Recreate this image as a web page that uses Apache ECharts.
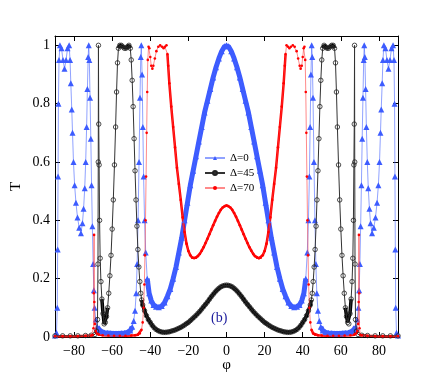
<!DOCTYPE html>
<html>
<head>
<meta charset="utf-8">
<script src="https://cdn.jsdelivr.net/npm/echarts@6.0.0/dist/echarts.min.js"></script>
<style>
html, body { margin: 0; padding: 0; background: #fff; }
#chart { width: 436px; height: 390px; }
</style>
</head>
<body>
<div id="chart"></div>
<script>
// tick labels
var xTicks = [-80, -60, -40, -20, 0, 20, 40, 60, 80];
var yTicks = [0, 0.2, 0.4, 0.6, 0.8, 1];
var names = ['Δ=0', 'Δ=45', 'Δ=70'];

// Δ=0  [phi, T]
var blueData = [
  [-90,0.005],[-89.2,0.015],[-88.8,0.1],[-88.6,0.3],[-88.4,0.55],[-88.2,0.8],[-87.9,0.95],[-87.4,1.0],[-86.6,0.99],[-85.8,0.95],[-85.0,0.92],[-84.2,0.95],[-83.4,0.99],[-82.6,1.0],[-82.1,0.95],[-81.7,0.87],[-81.2,0.78],[-80.8,0.70],[-80.3,0.6],[-79.7,0.52],[-79.0,0.46],[-78.2,0.41],[-77.3,0.375],[-76.4,0.356],[-75.6,0.39],[-75.0,0.44],[-74.4,0.51],[-73.9,0.6],[-73.4,0.72],[-73.0,0.85],[-72.6,0.96],[-72.3,1.0],[-72.0,0.95],[-71.6,0.82],[-71.2,0.68],[-70.8,0.52],[-70.4,0.38],[-70.0,0.25],[-69.6,0.16],[-69.2,0.1],[-68.6,0.06],[-67.8,0.035],[-66.8,0.025],[-65.5,0.018],[-64,0.015],[-62.5,0.014],[-61,0.013],[-59.5,0.012],[-58,0.012],[-56.5,0.012],[-55,0.013],[-53.5,0.014],[-52,0.016],[-50.5,0.022],[-49.5,0.035],[-48.7,0.055],[-48,0.09],[-47.4,0.15],[-46.9,0.25],[-46.4,0.4],[-45.9,0.6],[-45.4,0.82],[-45.0,0.96],[-44.7,1.0],[-44.3,0.9],[-43.9,0.72],[-43.5,0.55],[-43.0,0.4],[-42.4,0.29],[-41.6,0.2],[-40.6,0.15],[-39.5,0.125],[-38.3,0.11],[-37,0.104],[-35.5,0.102],[-34,0.106],[-32.5,0.118],[-31,0.14],[-29.5,0.165],[-28,0.2],[-26.5,0.24],[-25,0.29],[-23.5,0.34],[-22,0.4],[-20.5,0.46],[-19,0.52],[-17.5,0.57],[-16,0.62],[-14.5,0.67],[-13,0.72],[-11.5,0.77],[-10,0.81],[-8.5,0.85],[-7,0.89],[-5.5,0.925],[-4,0.955],[-2.5,0.98],[-1,0.997],[0,1.0],
  [1,0.997],[2.5,0.98],[4,0.955],[5.5,0.925],[7,0.89],[8.5,0.85],[10,0.81],[11.5,0.77],[13,0.72],[14.5,0.67],[16,0.62],[17.5,0.57],[19,0.52],[20.5,0.46],[22,0.4],[23.5,0.34],[25,0.29],[26.5,0.24],[28,0.2],[29.5,0.165],[31,0.14],[32.5,0.118],[34,0.106],[35.5,0.102],[37,0.104],[38.3,0.11],[39.5,0.125],[40.6,0.15],[41.6,0.2],[42.4,0.29],[43.0,0.4],[43.5,0.55],[43.9,0.72],[44.3,0.9],[44.7,1.0],[45.0,0.96],[45.4,0.82],[45.9,0.6],[46.4,0.4],[46.9,0.25],[47.4,0.15],[48,0.09],[48.7,0.055],[49.5,0.035],[50.5,0.022],[52,0.016],[53.5,0.014],[55,0.013],[56.5,0.012],[58,0.012],[59.5,0.012],[61,0.013],[62.5,0.014],[64,0.015],[65.5,0.018],[66.8,0.025],[67.8,0.035],[68.6,0.06],[69.2,0.1],[69.6,0.16],[70.0,0.25],[70.4,0.38],[70.8,0.52],[71.2,0.68],[71.6,0.82],[72.0,0.95],[72.3,1.0],[72.6,0.96],[73.0,0.85],[73.4,0.72],[73.9,0.6],[74.4,0.51],[75.0,0.44],[75.6,0.39],[76.4,0.356],[77.3,0.375],[78.2,0.41],[79.0,0.46],[79.7,0.52],[80.3,0.6],[80.8,0.70],[81.2,0.78],[81.7,0.87],[82.1,0.95],[82.6,1.0],[83.4,0.99],[84.2,0.95],[85.0,0.92],[85.8,0.95],[86.6,0.99],[87.4,1.0],[87.9,0.95],[88.2,0.8],[88.4,0.55],[88.6,0.3],[88.8,0.1],[89.2,0.015],[90,0.005]
];

// Δ=45
var blackData = [
  [-90,0.004],[-86,0.004],[-82,0.004],[-78,0.004],[-74,0.005],[-71,0.006],[-69,0.009],[-68.2,0.02],[-67.7,0.06],[-67.45,0.25],[-67.3,0.6],[-67.2,1.0],[-67.05,0.73],[-66.85,0.59],[-66.6,0.4],[-66.3,0.27],[-65.9,0.19],[-65.4,0.13],[-64.8,0.08],[-64.2,0.045],[-63.6,0.05],[-63.0,0.07],[-62.4,0.1],[-61.8,0.15],[-61.2,0.21],[-60.6,0.28],[-60.0,0.37],[-59.4,0.47],[-58.8,0.59],[-58.2,0.72],[-57.7,0.84],[-57.2,0.94],[-56.7,0.99],[-56,1.0],[-55.2,1.0],[-54.4,0.995],[-53.6,0.99],[-52.8,0.99],[-52,0.995],[-51.2,1.0],[-50.5,0.99],[-50,0.95],[-49.5,0.88],[-49,0.79],[-48.5,0.68],[-48,0.57],[-47.5,0.47],[-47,0.38],[-46.5,0.3],[-46,0.24],[-45.5,0.19],[-45,0.15],[-44.5,0.127],[-44,0.11],[-43,0.09],[-42,0.073],[-41,0.06],[-40,0.05],[-39,0.04],[-38,0.032],[-37,0.026],[-36,0.022],[-35,0.019],[-34,0.017],[-33,0.016],[-32,0.016],[-31,0.017],[-30,0.018],[-29,0.02],[-28,0.022],[-27,0.024],[-26,0.027],[-25,0.03],[-24,0.033],[-23,0.037],[-22,0.041],[-21,0.046],[-20,0.05],[-19,0.056],[-18,0.062],[-17,0.068],[-16,0.074],[-15,0.081],[-14,0.088],[-13,0.096],[-12,0.104],[-11,0.112],[-10,0.12],[-9,0.129],[-8,0.138],[-7,0.146],[-6,0.154],[-5,0.161],[-4,0.167],[-3,0.172],[-2,0.175],[-1,0.177],[0,0.178],
  [1,0.177],[2,0.175],[3,0.172],[4,0.167],[5,0.161],[6,0.154],[7,0.146],[8,0.138],[9,0.129],[10,0.12],[11,0.112],[12,0.104],[13,0.096],[14,0.088],[15,0.081],[16,0.074],[17,0.068],[18,0.062],[19,0.056],[20,0.05],[21,0.046],[22,0.041],[23,0.037],[24,0.033],[25,0.03],[26,0.027],[27,0.024],[28,0.022],[29,0.02],[30,0.018],[31,0.017],[32,0.016],[33,0.016],[34,0.017],[35,0.019],[36,0.022],[37,0.026],[38,0.032],[39,0.04],[40,0.05],[41,0.06],[42,0.073],[43,0.09],[44,0.11],[44.5,0.127],[45,0.15],[45.5,0.19],[46,0.24],[46.5,0.3],[47,0.38],[47.5,0.47],[48,0.57],[48.5,0.68],[49,0.79],[49.5,0.88],[50,0.95],[50.5,0.99],[51.2,1.0],[52,0.995],[52.8,0.99],[53.6,0.99],[54.4,0.995],[55.2,1.0],[56,1.0],[56.7,0.99],[57.2,0.94],[57.7,0.84],[58.2,0.72],[58.8,0.59],[59.4,0.47],[60.0,0.37],[60.6,0.28],[61.2,0.21],[61.8,0.15],[62.4,0.1],[63.0,0.07],[63.6,0.05],[64.2,0.045],[64.8,0.08],[65.4,0.13],[65.9,0.19],[66.3,0.27],[66.6,0.4],[66.85,0.59],[67.05,0.73],[67.2,1.0],[67.3,0.6],[67.45,0.25],[67.7,0.06],[68.2,0.02],[69,0.009],[71,0.006],[74,0.005],[78,0.004],[82,0.004],[86,0.004],[90,0.004]
];

// Δ=70
var redData = [
  [-90,0.003],[-86,0.003],[-82,0.003],[-78,0.003],[-74,0.004],[-71,0.005],[-70.2,0.007],[-69.8,0.03],[-69.65,0.15],[-69.5,0.35],[-69.35,0.12],[-69.1,0.045],[-68.6,0.02],[-68,0.012],[-67,0.008],[-65,0.006],[-62,0.005],[-59,0.004],[-56,0.004],[-53,0.004],[-50,0.005],[-48,0.006],[-46.5,0.008],[-45.5,0.012],[-44.6,0.025],[-44.0,0.05],[-43.5,0.1],[-43.1,0.18],[-42.8,0.28],[-42.5,0.4],[-42.2,0.55],[-41.9,0.7],[-41.6,0.84],[-41.3,0.95],[-40.9,0.995],[-40.5,0.99],[-40,0.96],[-39.5,0.93],[-38.9,0.92],[-38.4,0.93],[-37.6,0.955],[-36.8,0.98],[-35.8,0.995],[-34.8,1.0],[-33.8,0.995],[-33,0.99],[-32.3,0.995],[-31.5,1.0],[-31,0.97],[-30.6,0.93],[-30,0.87],[-29,0.79],[-28,0.72],[-27,0.65],[-26,0.58],[-25,0.525],[-24,0.47],[-23,0.41],[-22,0.36],[-21,0.32],[-20,0.295],[-19,0.28],[-18,0.272],[-17,0.27],[-16,0.272],[-15,0.277],[-14,0.285],[-13,0.296],[-12,0.308],[-11,0.322],[-10,0.337],[-9,0.352],[-8,0.368],[-7,0.383],[-6,0.398],[-5,0.412],[-4,0.425],[-3,0.436],[-2,0.444],[-1,0.449],[0,0.451],
  [1,0.449],[2,0.444],[3,0.436],[4,0.425],[5,0.412],[6,0.398],[7,0.383],[8,0.368],[9,0.352],[10,0.337],[11,0.322],[12,0.308],[13,0.296],[14,0.285],[15,0.277],[16,0.272],[17,0.27],[18,0.272],[19,0.28],[20,0.295],[21,0.32],[22,0.36],[23,0.41],[24,0.47],[25,0.525],[26,0.58],[27,0.65],[28,0.72],[29,0.79],[30,0.87],[30.6,0.93],[31,0.97],[31.5,1.0],[32.3,0.995],[33,0.99],[33.8,0.995],[34.8,1.0],[35.8,0.995],[36.8,0.98],[37.6,0.955],[38.4,0.93],[38.9,0.92],[39.5,0.93],[40,0.96],[40.5,0.99],[40.9,0.995],[41.3,0.95],[41.6,0.84],[41.9,0.7],[42.2,0.55],[42.5,0.4],[42.8,0.28],[43.1,0.18],[43.5,0.1],[44.0,0.05],[44.6,0.025],[45.5,0.012],[46.5,0.008],[48,0.006],[50,0.005],[53,0.004],[56,0.004],[59,0.004],[62,0.005],[65,0.006],[67,0.008],[68,0.012],[68.6,0.02],[69.1,0.045],[69.35,0.12],[69.5,0.35],[69.65,0.15],[69.8,0.03],[70.2,0.007],[71,0.005],[74,0.004],[78,0.003],[82,0.003],[86,0.003],[90,0.003]
];

// ranges where the original markers are so dense they merge into a band
var blueBands = [[-41.6, 41.6], [-68, -49.5], [49.5, 68]];
var blackBands = [[-44.5, 44.5], [-56.7, -50.5], [50.5, 56.7], [-65.4, -62.4], [62.4, 65.4]];
var redBands = [[-31, 31], [-90, -70.2], [-68.6, -44.6], [44.6, 68.6], [70.2, 90]];

var font = "'Liberation Serif', 'DejaVu Serif', serif";
var myChart = echarts.init(document.getElementById('chart'));

function bands(name, data, ranges, color, width) {
  return ranges.map(function (r) {
    return {
      name: name, type: 'line', silent: true, symbol: 'none', z: 1,
      data: data.filter(function (p) { return p[0] >= r[0] && p[0] <= r[1]; }),
      lineStyle: { color: color, width: width }
    };
  });
}

var series = [
  {
    name: names[0], type: 'line', data: blueData, z: 3,
    symbol: 'triangle', symbolSize: 6,
    itemStyle: { color: '#3d5cff' },
    lineStyle: { color: 'rgba(70,100,255,0.6)', width: 1 }
  },
  {
    name: names[1], type: 'line', data: blackData, z: 4,
    symbol: 'circle', symbolSize: 4.5,
    itemStyle: { color: 'rgba(255,255,255,0)', borderColor: '#222', borderWidth: 0.8 },
    lineStyle: { color: '#333', width: 1 }
  },
  {
    name: names[2], type: 'line', data: redData, z: 5,
    symbol: 'circle', symbolSize: 2.6,
    itemStyle: { color: '#ff0000' },
    lineStyle: { color: 'rgba(255,60,60,0.6)', width: 1 }
  }
].concat(
  bands(names[0], blueData, blueBands, '#3d5cff', 5),
  bands(names[1], blackData, blackBands, '#000', 3.5),
  bands(names[2], redData, redBands, '#ff0000', 2.5)
);

var tickStyle = { inside: true, length: 5, lineStyle: { color: '#000' } };
var lineStyle = { onZero: false, lineStyle: { color: '#000' } };

var option = {
  animation: false,
  backgroundColor: '#fff',
  grid: { left: 55, right: 38, top: 36, bottom: 53 },
  legend: {
    data: names,
    orient: 'vertical',
    left: 204, top: 152, padding: 0,
    itemWidth: 20, itemHeight: 5, itemGap: 3,
    textStyle: { fontFamily: font, fontSize: 11, color: '#000', lineHeight: 12 }
  },
  xAxis: [
    {
      type: 'value', min: -90, max: 90,
      name: 'φ', nameLocation: 'middle', nameGap: 21, nameMoveOverlap: false,
      nameTextStyle: { fontFamily: font, fontSize: 15, color: '#000' },
      axisLine: lineStyle,
      axisTick: Object.assign({ customValues: xTicks }, tickStyle),
      axisLabel: {
        customValues: xTicks, margin: 7,
        fontFamily: font, fontSize: 14, color: '#000',
        formatter: function (v) { return v < 0 ? '\u2212' + (-v) : String(v); }
      },
      splitLine: { show: false }
    },
    {
      type: 'value', min: -90, max: 90, position: 'top',
      axisLine: lineStyle,
      axisTick: Object.assign({ customValues: xTicks }, tickStyle),
      axisLabel: { show: false },
      splitLine: { show: false }
    }
  ],
  yAxis: [
    {
      type: 'value', min: 0, max: 1.032,
      name: 'T', nameLocation: 'middle', nameGap: 31, nameMoveOverlap: false,
      nameTextStyle: { fontFamily: font, fontSize: 15, color: '#000' },
      axisLine: Object.assign({ show: true }, lineStyle),
      axisTick: Object.assign({ customValues: yTicks }, tickStyle),
      axisLabel: {
        customValues: yTicks, margin: 5,
        fontFamily: font, fontSize: 14, color: '#000'
      },
      splitLine: { show: false }
    },
    {
      type: 'value', min: 0, max: 1.032, position: 'right',
      axisLine: Object.assign({ show: true }, lineStyle),
      axisTick: Object.assign({ customValues: yTicks }, tickStyle),
      axisLabel: { show: false },
      splitLine: { show: false }
    }
  ],
  graphic: [
    {
      type: 'text', left: 211, top: 311,
      style: { text: '(b)', font: '14px ' + font, fill: '#1a1a9c' }
    }
  ],
  series: series
};

myChart.setOption(option);
</script>
</body>
</html>
